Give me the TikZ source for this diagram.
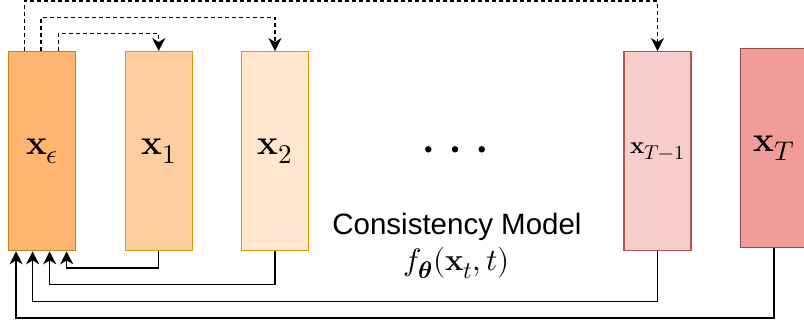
\documentclass[tikz,border=0pt]{standalone}
\usepackage{fontspec}
\usepackage{unicode-math}
\setmathfont{Latin Modern Math}
\newfontfamily\labelsans{Liberation Sans}
\DeclareMathSizes{35}{35}{27}{20}
\DeclareMathSizes{31}{31}{24}{18}
\DeclareMathSizes{24}{24}{20}{16}
\usetikzlibrary{arrows.meta}
\definecolor{epsfill}{HTML}{FFB570}
\definecolor{epsdraw}{HTML}{B98A1A}
\definecolor{onefill}{HTML}{FFCE9F}
\definecolor{twofill}{HTML}{FFE6CC}
\definecolor{golddraw}{HTML}{D79B00}
\definecolor{tmfill}{HTML}{F8CECC}
\definecolor{tmdraw}{HTML}{B85450}
\definecolor{tfill}{HTML}{F19C99}
\definecolor{tdraw}{HTML}{8F4A4A}
\tikzset{
  blockbox/.style={rectangle, minimum width=67pt, minimum height=199pt, inner sep=0pt, line width=1.3pt},
  bigmath/.style={font=\fontsize{35}{40}\selectfont},
  conn/.style={line width=1.5pt, -{Stealth[length=13pt,width=13pt,inset=4pt]}},
  dashconn/.style={conn, dash pattern=on 4pt off 3pt},
  dotmark/.style={circle, fill=black, inner sep=0pt, minimum size=6.5pt}
}
\begin{document}
\begin{tikzpicture}[x=1pt,y=1pt]
\useasboundingbox (0,0) rectangle (804,327);
\node[blockbox, fill=epsfill, draw=epsdraw, bigmath] (e) at (42.2,175.8) {$\mathbf{x}_\epsilon$};
\node[blockbox, fill=onefill, draw=golddraw, bigmath] (b1) at (158.7,175.8) {$\mathbf{x}_1$};
\node[blockbox, fill=twofill, draw=golddraw, bigmath] (b2) at (275,175.8) {$\mathbf{x}_2$};
\node[blockbox, fill=tmfill, draw=tmdraw, font=\fontsize{24}{28}\selectfont] (tm1) at (657.5,175.8) {$\mathbf{x}_{T-1}$};
\node[blockbox, fill=tfill, draw=tdraw, bigmath] (t) at (773.8,179) {$\mathbf{x}_T$};
\node[dotmark] (d1) at (428.3,177.7) {};
\node[dotmark] (d2) at (455,177.7) {};
\node[dotmark] (d3) at (481.7,177.7) {};
\node[font=\labelsans\fontsize{29.5}{32}\selectfont] (cm) at (457,100) {Consistency Model};
\node[font=\fontsize{31}{34}\selectfont] (fm) at (456.7,64) {$f_{\symbfit{\theta}}(\mathbf{x}_t,t)$};
% dashed forward connectors
\draw[dashconn] ([xshift=16.3pt]e.north west) -- ++(0,50) -| (tm1.north);
\draw[dashconn] ([xshift=33pt]e.north west) -- ++(0,33.4) -| (b2.north);
\draw[dashconn] ([xshift=50.3pt]e.north west) -- ++(0,17.4) -| (b1.north);
% solid return connectors
\draw[conn] (b1.south) -- ++(0,-16.6) -| ([xshift=58.6pt]e.south west);
\draw[conn] (b2.south) -- ++(0,-33.3) -| ([xshift=41.6pt]e.south west);
\draw[conn] (tm1.south) -- ++(0,-50.3) -| ([xshift=24.6pt]e.south west);
\draw[conn] (t.south) -- ++(0,-70) -| ([xshift=8pt]e.south west);
\end{tikzpicture}
\end{document}
